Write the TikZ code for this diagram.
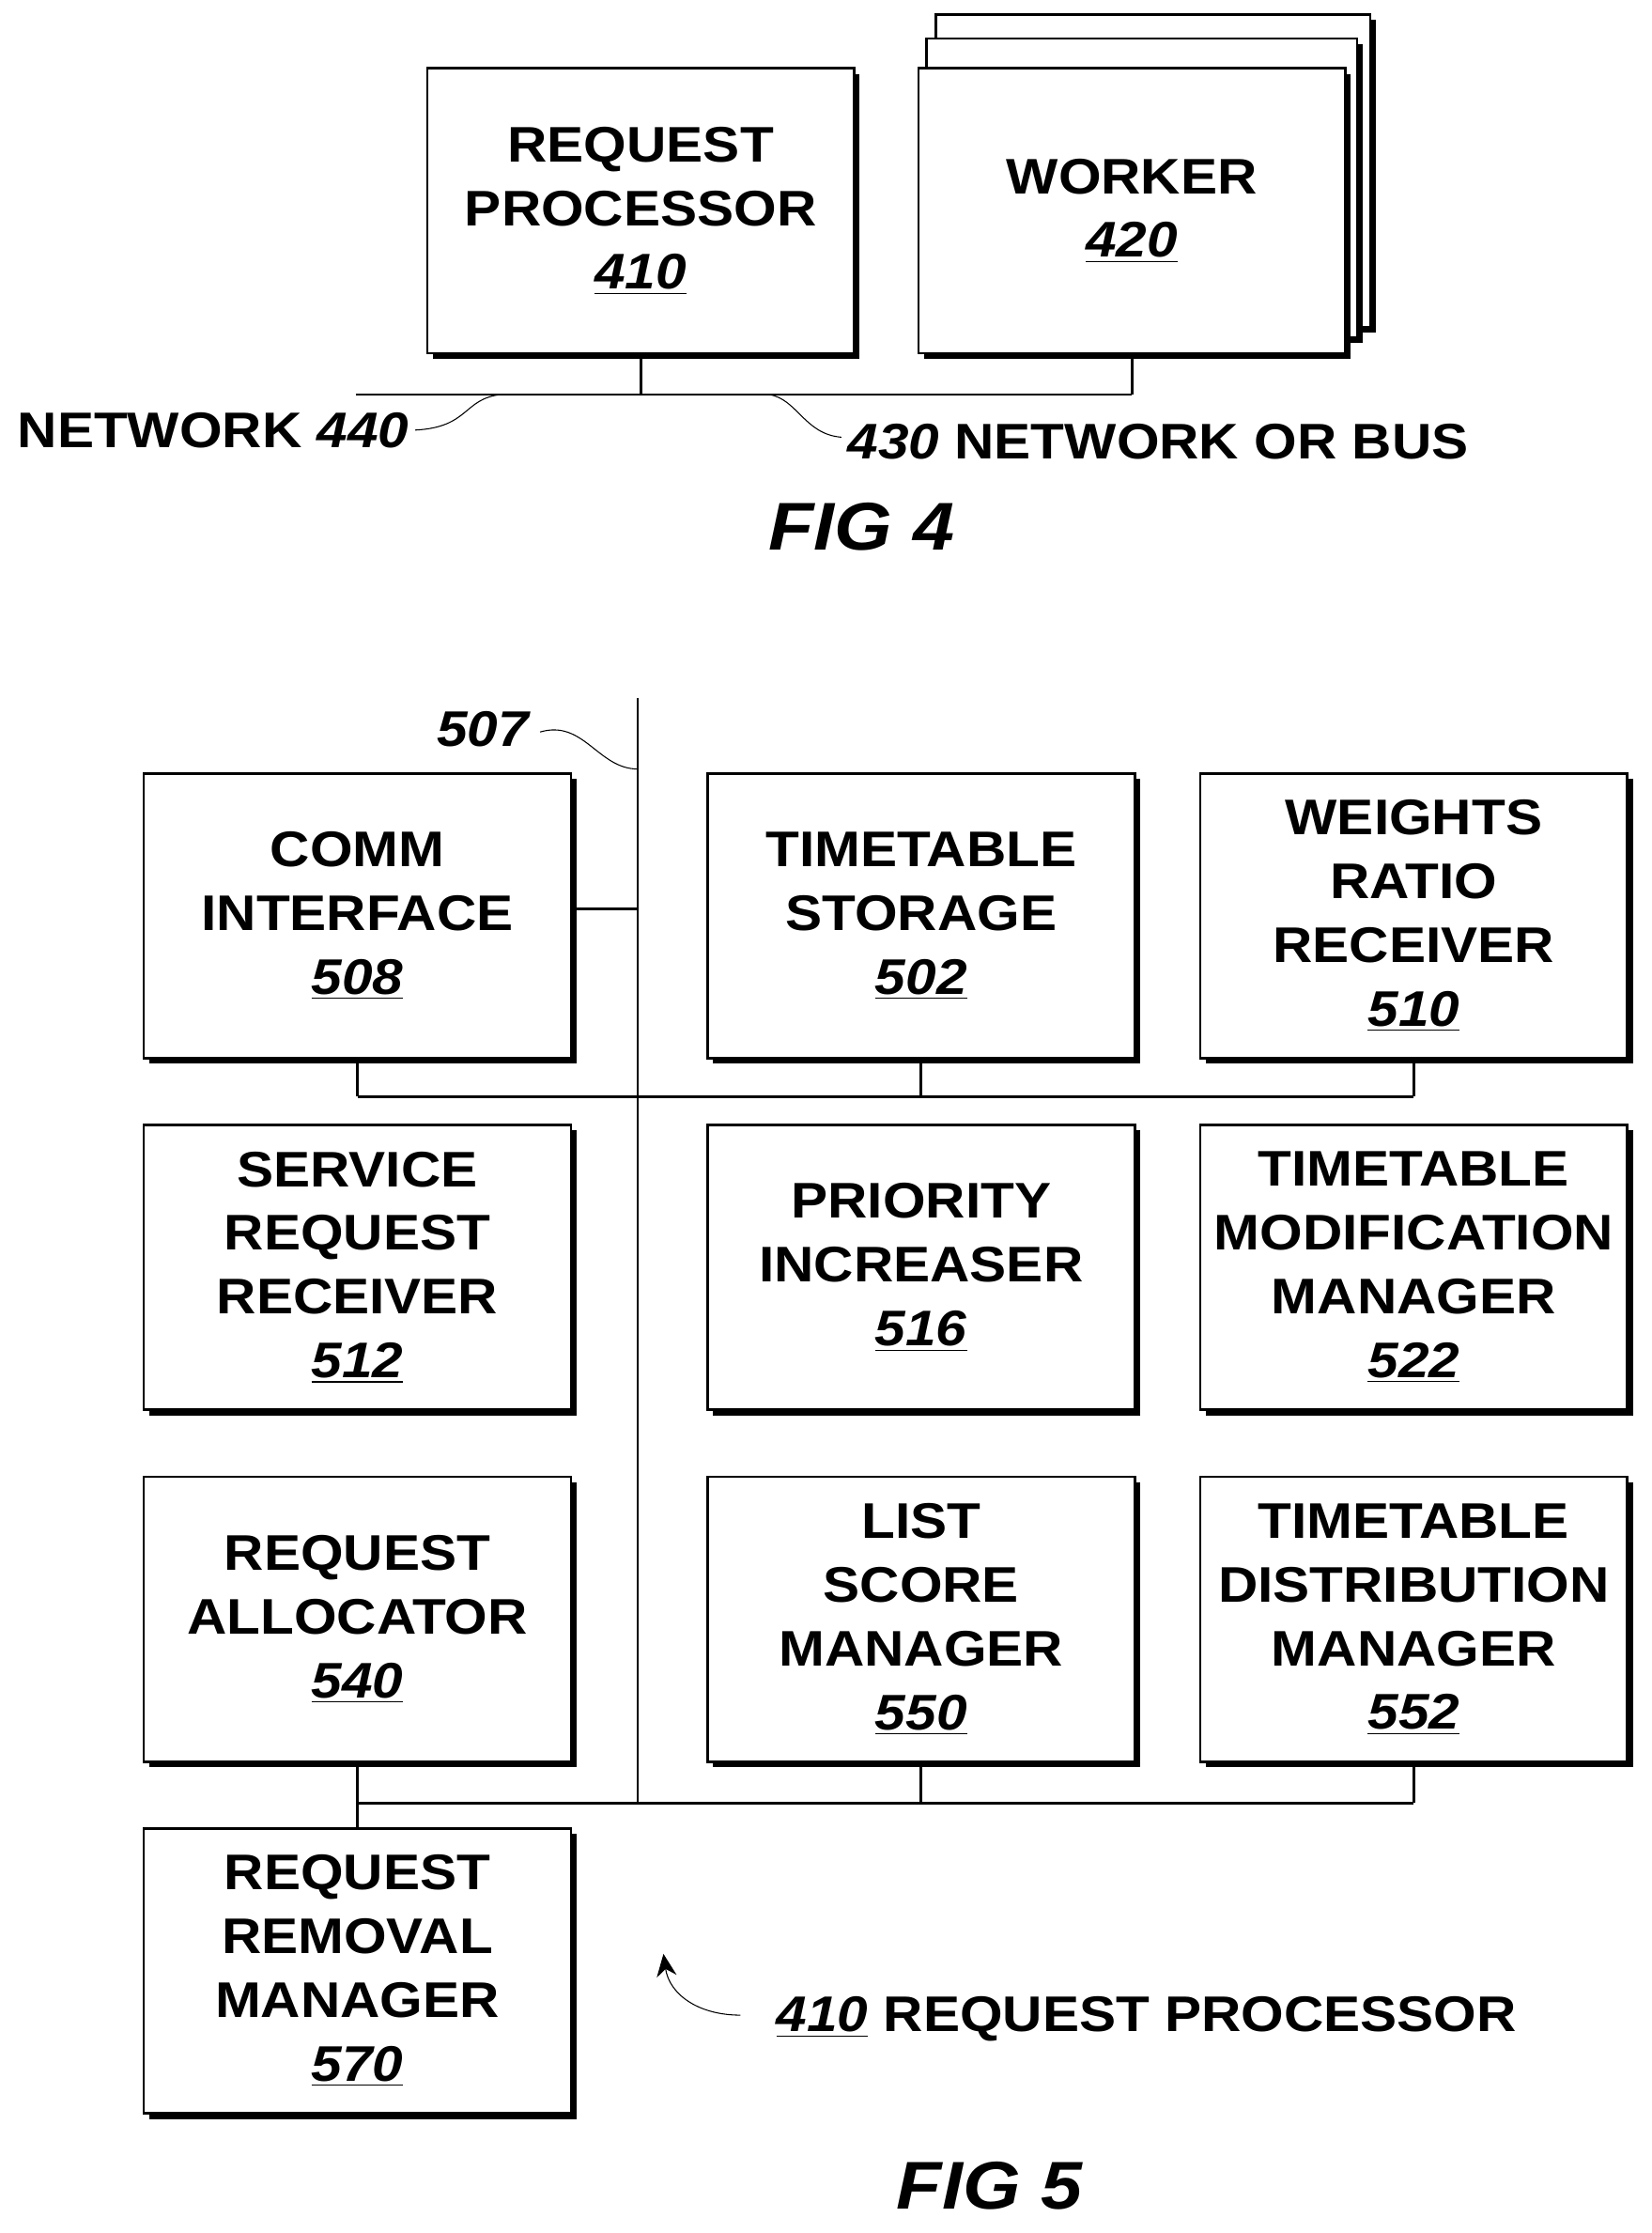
\documentclass[tikz,border=0pt]{standalone}
\usepackage{fontspec}
\setmainfont{Liberation Sans}[FakeStretch=1.1]
\usetikzlibrary{shadows, arrows.meta}
\newcommand\refnum[1]{\underline{\textit{#1}}}
\tikzset{
  blk/.style={draw, line width=1pt, fill=white, minimum width=6cm, minimum height=4cm,
    align=center, font=\fontsize{20}{25.5}\selectfont\bfseries,
    drop shadow={shadow xshift=2.2pt, shadow yshift=-2.2pt, fill=black, opacity=1}},
  bus/.style={line width=1pt},
  lbl/.style={font=\fontsize{20}{25}\selectfont\bfseries, inner sep=0pt},
  fig/.style={font=\fontsize{27}{30}\selectfont\bfseries\itshape, inner sep=0pt}
}
\begin{document}
\begin{tikzpicture}[x=0.02cm, y=-0.02cm]
\useasboundingbox (0,0) rectangle (1160,1568);
% FIG 4
\node[blk] (rp) at (450,148) {REQUEST\\PROCESSOR\\\refnum{410}};
\node[blk, minimum width=6.1cm, minimum height=4.4cm] (w3) at (810,120) {};
\node[blk, minimum width=6.05cm, minimum height=4.2cm] (w2) at (802,132) {};
\node[blk] (wk) at (795,148) {WORKER\\\refnum{420}};
\coordinate (b4l) at (250,277);
\coordinate (b4r) at (795,277);
\draw[bus] (b4l) -- (b4r);
\draw[bus] (rp.south) -- (rp.south |- b4l);
\draw[bus] (wk.south) -- (b4r);
\node[lbl, anchor=west] (net) at (12,302) {NETWORK \textit{440}};
\node[lbl, anchor=west] (nob) at (595,310) {\textit{430} NETWORK OR BUS};
\draw (net.east) ++(4,0) .. controls (330,300) and (325,280) .. (352,277);
\draw (nob.west) ++(-4,-3) .. controls (565,305) and (560,280) .. (540,277);
\node[fig] (f4) at (605,370) {FIG 4};
% FIG 5
\node[blk] (ci) at (251,643) {COMM\\INTERFACE\\\refnum{508}};
\node[blk] (ts) at (647,643) {TIMETABLE\\STORAGE\\\refnum{502}};
\node[blk] (wr) at (993,643) {WEIGHTS\\RATIO\\RECEIVER\\\refnum{510}};
\node[blk] (sr) at (251,890) {SERVICE\\REQUEST\\RECEIVER\\\refnum{512}};
\node[blk] (pi) at (647,890) {PRIORITY\\INCREASER\\\refnum{516}};
\node[blk] (tm) at (993,890) {TIMETABLE\\MODIFICATION\\MANAGER\\\refnum{522}};
\node[blk] (ra) at (251,1137) {REQUEST\\ALLOCATOR\\\refnum{540}};
\node[blk] (ls) at (647,1137) {LIST\\SCORE\\MANAGER\\\refnum{550}};
\node[blk] (td) at (993,1137) {TIMETABLE\\DISTRIBUTION\\MANAGER\\\refnum{552}};
\node[blk] (rr) at (251,1384) {REQUEST\\REMOVAL\\MANAGER\\\refnum{570}};
\coordinate (top) at (448,490);
\coordinate (bot) at (448,1266);
\draw[bus] (top) -- (bot);
\draw[bus] (ci.east |- 0,638) -- (448,638);
\draw[bus] (ci.south |- 0,770) -- (wr.south |- 0,770);
\foreach \n in {ci,ts,wr} \draw[bus] (\n.south) -- (\n.south |- 0,770);
\draw[bus] (ra.south |- bot) -- (td.south |- bot);
\foreach \n in {ra,ls,td} \draw[bus] (\n.south) -- (\n.south |- bot);
\draw[bus] (ra.south |- bot) -- (rr.north);
\node[lbl] (l507) at (340,512) {\textit{507}};
\draw (l507.east) ++(6,2) .. controls (410,505) and (420,540) .. (448,540);
\node[lbl, anchor=west] (rpl) at (545,1418) {\refnum{410} REQUEST PROCESSOR};
\draw[-{Stealth[length=9pt,width=8pt]}] (520,1415) .. controls (490,1415) and (470,1400) .. (466,1372);
\node[fig] (f5) at (695,1535) {FIG 5};
\end{tikzpicture}
\end{document}
